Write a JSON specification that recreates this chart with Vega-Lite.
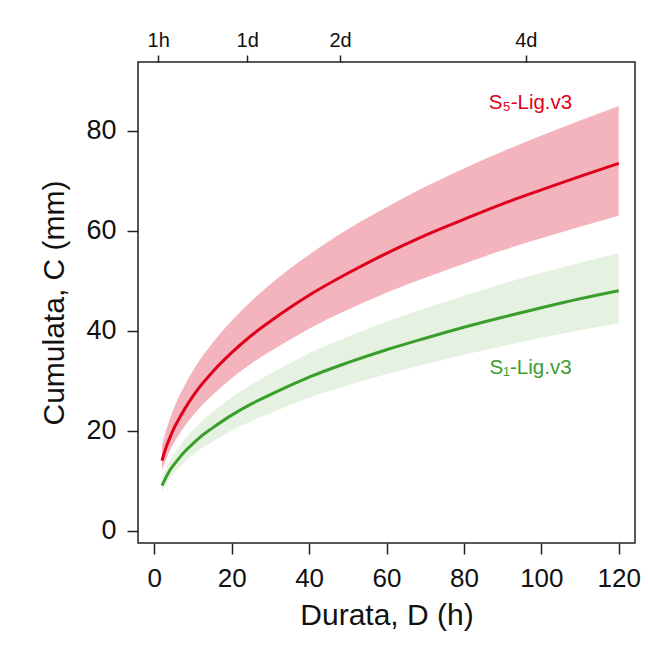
{
  "$schema": "https://vega.github.io/schema/vega-lite/v6.json",
  "autosize": {"type": "none"},
  "padding": {"left": 138, "top": 62, "right": 13, "bottom": 104},
  "width": 497,
  "height": 481,
  "background": "white",
  "config": {
    "font": "Liberation Sans",
    "view": {"stroke": "#222", "strokeWidth": 1.5},
    "axis": {"domain": false, "grid": false, "tickColor": "#222", "tickWidth": 1.5, "labelColor": "#111", "titleColor": "#111", "titleFontWeight": "normal"}
  },
  "datasets": {
    "curves": [
      {"series": "S5", "D": 2, "C": 14.0, "lo": 12.0, "hi": 17.0},
      {"series": "S5", "D": 3, "C": 16.5, "lo": 14.1, "hi": 19.9},
      {"series": "S5", "D": 4, "C": 18.5, "lo": 15.9, "hi": 22.3},
      {"series": "S5", "D": 5, "C": 20.3, "lo": 17.4, "hi": 24.4},
      {"series": "S5", "D": 6, "C": 21.8, "lo": 18.7, "hi": 26.2},
      {"series": "S5", "D": 8, "C": 24.5, "lo": 21.0, "hi": 29.3},
      {"series": "S5", "D": 10, "C": 26.9, "lo": 23.0, "hi": 32.0},
      {"series": "S5", "D": 12, "C": 29.0, "lo": 24.8, "hi": 34.4},
      {"series": "S5", "D": 15, "C": 31.7, "lo": 27.1, "hi": 37.5},
      {"series": "S5", "D": 20, "C": 35.6, "lo": 30.5, "hi": 42.0},
      {"series": "S5", "D": 25, "C": 39.0, "lo": 33.4, "hi": 45.9},
      {"series": "S5", "D": 30, "C": 41.9, "lo": 35.9, "hi": 49.3},
      {"series": "S5", "D": 35, "C": 44.6, "lo": 38.2, "hi": 52.4},
      {"series": "S5", "D": 40, "C": 47.1, "lo": 40.4, "hi": 55.2},
      {"series": "S5", "D": 50, "C": 51.5, "lo": 44.2, "hi": 60.3},
      {"series": "S5", "D": 60, "C": 55.5, "lo": 47.6, "hi": 64.7},
      {"series": "S5", "D": 70, "C": 59.1, "lo": 50.6, "hi": 68.8},
      {"series": "S5", "D": 80, "C": 62.3, "lo": 53.4, "hi": 72.5},
      {"series": "S5", "D": 90, "C": 65.4, "lo": 56.1, "hi": 75.9},
      {"series": "S5", "D": 100, "C": 68.2, "lo": 58.5, "hi": 79.1},
      {"series": "S5", "D": 110, "C": 70.9, "lo": 60.8, "hi": 82.1},
      {"series": "S5", "D": 120, "C": 73.5, "lo": 63.0, "hi": 85.0},
      {"series": "S1", "D": 2, "C": 9.0, "lo": 7.8, "hi": 10.4},
      {"series": "S1", "D": 3, "C": 10.6, "lo": 9.2, "hi": 12.3},
      {"series": "S1", "D": 4, "C": 12.0, "lo": 10.4, "hi": 13.9},
      {"series": "S1", "D": 5, "C": 13.1, "lo": 11.4, "hi": 15.2},
      {"series": "S1", "D": 6, "C": 14.1, "lo": 12.2, "hi": 16.3},
      {"series": "S1", "D": 8, "C": 15.9, "lo": 13.8, "hi": 18.4},
      {"series": "S1", "D": 10, "C": 17.4, "lo": 15.1, "hi": 20.1},
      {"series": "S1", "D": 12, "C": 18.8, "lo": 16.3, "hi": 21.7},
      {"series": "S1", "D": 15, "C": 20.5, "lo": 17.7, "hi": 23.7},
      {"series": "S1", "D": 20, "C": 23.1, "lo": 20.0, "hi": 26.7},
      {"series": "S1", "D": 25, "C": 25.3, "lo": 21.9, "hi": 29.2},
      {"series": "S1", "D": 30, "C": 27.2, "lo": 23.5, "hi": 31.4},
      {"series": "S1", "D": 35, "C": 29.0, "lo": 25.1, "hi": 33.5},
      {"series": "S1", "D": 40, "C": 30.7, "lo": 26.6, "hi": 35.5},
      {"series": "S1", "D": 50, "C": 33.6, "lo": 29.1, "hi": 38.8},
      {"series": "S1", "D": 60, "C": 36.2, "lo": 31.3, "hi": 41.8},
      {"series": "S1", "D": 70, "C": 38.5, "lo": 33.3, "hi": 44.5},
      {"series": "S1", "D": 80, "C": 40.7, "lo": 35.2, "hi": 47.0},
      {"series": "S1", "D": 90, "C": 42.7, "lo": 36.9, "hi": 49.4},
      {"series": "S1", "D": 100, "C": 44.6, "lo": 38.6, "hi": 51.6},
      {"series": "S1", "D": 110, "C": 46.4, "lo": 40.1, "hi": 53.6},
      {"series": "S1", "D": 120, "C": 48.0, "lo": 41.5, "hi": 55.5}
    ],
    "labels": [
      {"series": "S5", "D": 97.2, "C": 85.6, "label": "S₅-Lig.v3"},
      {"series": "S1", "D": 97.2, "C": 32.6, "label": "S₁-Lig.v3"}
    ]
  },
  "layer": [
    {
      "data": {"name": "curves"},
      "mark": {"type": "area", "opacity": 1, "interpolate": "monotone"},
      "encoding": {
        "x": {"field": "D", "type": "quantitative", "scale": {"domain": [-4.2, 124.2], "nice": false, "zero": false},
              "axis": {"orient": "bottom", "values": [0, 20, 40, 60, 80, 100, 120], "title": "Durata, D (h)", "labelFontSize": 26, "titleFontSize": 30, "tickSize": 11, "labelPadding": 11, "titlePadding": 9}},
        "y": {"field": "hi", "type": "quantitative", "scale": {"domain": [-2.5, 93.8], "nice": false, "zero": false},
              "axis": {"values": [0, 20, 40, 60, 80], "title": "Cumulata, C (mm)", "labelFontSize": 27, "titleFontSize": 30, "tickSize": 11, "labelPadding": 11, "titlePadding": 16}},
        "y2": {"field": "lo"},
        "color": {"field": "series", "type": "nominal", "scale": {"domain": ["S5", "S1"], "range": ["#f4b4be", "#e6f2e1"]}, "legend": null},
        "detail": {"field": "series"}
      }
    },
    {
      "data": {"name": "curves"},
      "mark": {"type": "line", "strokeWidth": 3, "interpolate": "monotone"},
      "encoding": {
        "x": {"field": "D", "type": "quantitative",
              "axis": {"orient": "top", "values": [1, 24, 48, 96], "labelExpr": "datum.value == 1 ? '1h' : datum.value == 24 ? '1d' : datum.value == 48 ? '2d' : '4d'", "title": null, "labelFontSize": 20, "tickSize": 7, "labelPadding": 5}},
        "y": {"field": "C", "type": "quantitative"},
        "stroke": {"field": "series", "type": "nominal", "scale": {"domain": ["S5", "S1"], "range": ["#e0001b", "#3a9e2d"]}, "legend": null}
      }
    },
    {
      "data": {"name": "labels"},
      "mark": {"type": "text", "fontSize": 20.5, "align": "center", "baseline": "middle"},
      "encoding": {
        "x": {"field": "D", "type": "quantitative", "axis": null},
        "y": {"field": "C", "type": "quantitative"},
        "text": {"field": "label"},
        "fill": {"field": "series", "type": "nominal", "scale": {"domain": ["S5", "S1"], "range": ["#e0001b", "#3a9e2d"]}, "legend": null}
      }
    }
  ],
  "resolve": {"axis": {"x": "independent"}, "scale": {"color": "independent", "stroke": "independent", "fill": "independent"}}
}
